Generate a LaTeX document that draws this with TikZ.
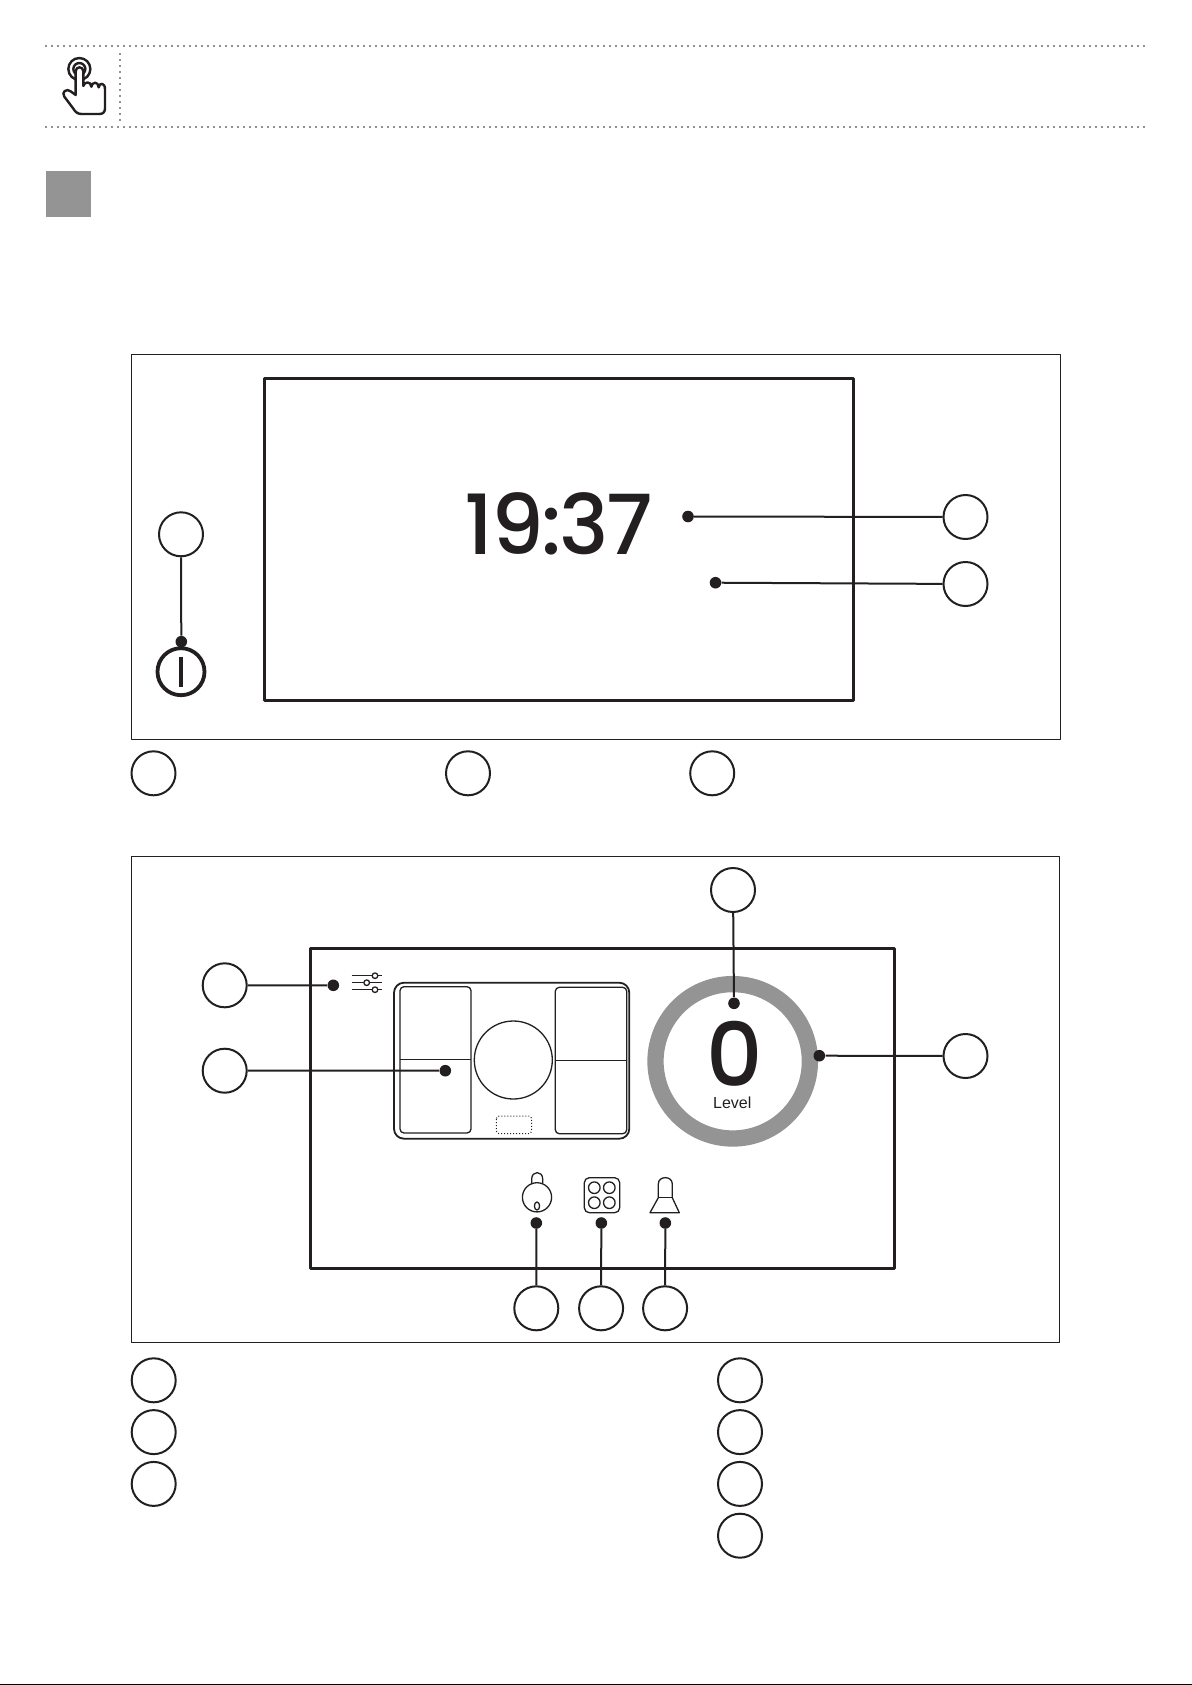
\documentclass[tikz,border=0pt]{standalone}
\usepackage{fontspec}
\setmainfont{Liberation Sans}
\newfontfamily\timefont[LetterSpace=-3]{Poppins Medium}
\newfontfamily\zerofont{Poppins Medium}
\usetikzlibrary{shapes}
\definecolor{ink}{HTML}{231F20}
\definecolor{ringgray}{HTML}{949494}
\tikzstyle{callout} = [circle, draw=ink, line width=1pt, fill=white, inner sep=0pt,
    minimum size=22pt]
\tikzstyle{pin} = [circle, fill=ink, inner sep=0pt, minimum size=5.8pt]
\tikzstyle{frame} = [draw=ink, line width=0.5pt]
\tikzstyle{screen} = [draw=ink, line width=1.5pt]
\tikzstyle{rule} = [ink, line width=0.8pt, line cap=round, dash pattern=on 0pt off 3pt]
\tikzstyle{icon} = [draw=ink, line width=0.65pt]
\tikzstyle{leader} = [draw=ink, line width=1pt]

\begin{document}
\begin{tikzpicture}[x=0.5pt,y=-0.5pt,line join=round]
  \useasboundingbox (0,0) rectangle (1192,1685);
  \fill[black] (0,1684) rectangle (1192,1685);

  \draw[rule] (46,46) -- (1146,46);
  \draw[rule] (46,127) -- (1146,127);
  \draw[rule] (120,54) -- (120,120);
  \fill[ringgray] (46,171) rectangle (91,217);

  \begin{scope}[shift={(30,30)},x=0.1667pt,y=-0.1667pt,draw=ink,line width=1.2pt]
    \draw (148,117) circle [radius=5.5pt];
    \draw (148,117) circle [radius=3pt];
    \draw[fill=white] (137,195) -- (137,124) .. controls (137,108) and (160,108) .. (160,124)
      -- (160,168) .. controls (162,155) and (183,152) .. (184,170)
      .. controls (186,155) and (205,153) .. (206,172)
      .. controls (208,157) and (225,157) .. (225,178) -- (225,235)
      .. controls (225,247) and (218,252) .. (208,252) -- (155,252)
      .. controls (143,252) and (136,246) .. (130,236) -- (103,200)
      .. controls (93,186) and (110,174) .. (122,184) -- cycle;
  \end{scope}

  % top panel
  \draw[frame] (131.5,354.5) rectangle (1060.5,739);
  \draw[screen] (264.5,378.5) rectangle (853.5,700.5);
  \node[ink, inner sep=0pt] (time) at (558.5,524) {\timefont\fontsize{41.5pt}{41.5pt}\selectfont 19:37};
  \node[circle, draw=ink, line width=1.9pt, inner sep=0pt, minimum size=23.5pt] (power) at (181,671.7) {};
  \draw[ink, line width=2pt] (181,656.7) -- (181,686.7);

  \node[callout] (c1)   at (181,534.3)   {};
  \node[pin]     (p1)   at (181.3,641.7) {};
  \node[callout] (c2)   at (965.5,517)   {};
  \node[pin]     (p2)   at (688,516.5)   {};
  \node[callout] (c3)   at (965.5,584)   {};
  \node[pin]     (p3)   at (715.5,582.7) {};
  \node[callout] (l1)   at (153.5,773.3) {};
  \node[callout] (l2)   at (468,773.3)   {};
  \node[callout] (l3)   at (712.2,773.3) {};

  \path[leader] (c1) -- (p1)
        (c2) -- (p2)
        (c3) -- (p3);

  % bottom panel
  \draw[frame] (131,856.5) rectangle (1059.5,1342.5);
  \draw[screen] (310,948.5) rectangle (894.5,1268.5);

  \draw[icon, line width=0.9pt, rounded corners=5pt] (394,982.7) rectangle (629.3,1138.7);
  \draw[icon, rounded corners=2pt] (400,986.7) rectangle (471,1133);
  \draw[icon] (400,1059.7) -- (471,1059.7);
  \draw[icon, rounded corners=2pt] (555.3,987.3) rectangle (626.7,1133.7);
  \draw[icon] (555.3,1060.3) -- (626.7,1060.3);
  \draw[icon] (513.3,1060) circle [radius=19.5pt];
  \draw[icon, line width=0.5pt, densely dotted, rounded corners=1.5pt] (496.3,1116) rectangle (531.7,1133.7);

  \draw[ringgray, line width=8.15pt] (732.7,1061.3) circle [radius=38.6pt];
  \node[ink, inner sep=0pt] (zero) at (735,1054) {\fontsize{44pt}{44pt}\selectfont\zerofont 0};
  \node[ink, inner sep=0pt] (level) at (732.3,1102.7) {\fontsize{8pt}{8pt}\selectfont Level};

  % sliders
  \draw[icon] (351.7,975.7) -- (381.7,975.7);
  \draw[icon] (351.7,982.7) -- (381.7,982.7);
  \draw[icon] (351.7,989.7) -- (381.7,989.7);
  \draw[icon, fill=white] (375,975.7) circle [radius=1.4pt];
  \draw[icon, fill=white] (366.7,982.7) circle [radius=1.4pt];
  \draw[icon, fill=white] (375,989.7) circle [radius=1.4pt];

  % lock
  \draw[icon] (537,1197.3) circle [radius=7.3pt];
  \draw[icon] (531.7,1184) -- (531.7,1179) .. controls (531.7,1170.5) and (542.7,1170.5) .. (542.7,1179) -- (542.7,1183);
  \draw[icon] (537,1206) ellipse [x radius=1.3pt, y radius=2pt];

  % hob
  \draw[icon, rounded corners=2.5pt] (584.3,1177.7) rectangle (619.7,1212.7);
  \draw[icon] (594.3,1187.7) circle [radius=2.9pt];
  \draw[icon] (609.3,1187.7) circle [radius=2.9pt];
  \draw[icon] (594.3,1202.7) circle [radius=2.9pt];
  \draw[icon] (609.3,1202.7) circle [radius=2.9pt];

  % hood
  \draw[icon] (658.3,1197.7) -- (658.3,1184) .. controls (658.3,1175.5) and (672.3,1175.5) .. (672.3,1184)
    -- (672.3,1197.7) -- (679.3,1212.7) -- (650,1212.7) -- cycle;
  \draw[icon] (658.3,1197.7) -- (672.3,1197.7);

  \node[callout] (c4)   at (733,890)      {};
  \node[pin]     (p4)   at (734,1003.3)   {};
  \node[callout] (c5)   at (965.5,1056)   {};
  \node[pin]     (p5)   at (819.3,1055.7) {};
  \node[callout] (c6)   at (224.7,985.3)  {};
  \node[pin]     (p6)   at (333.3,985.3)  {};
  \node[callout] (c7)   at (224.7,1070.7) {};
  \node[pin]     (p7)   at (445.3,1070.7) {};

  \node[callout] (c8)   at (536.3,1308.3) {};
  \node[callout] (c9)   [right of=c8, node distance=32.4pt] {};
  \node[callout] (c10)  [right of=c9, node distance=32pt] {};
  \node[pin]     (p8)   at (536.3,1223)   {};
  \node[pin]     (p9)   at (601.3,1223)   {};
  \node[pin]     (p10)  at (665.3,1223)   {};

  \node[callout] (l4)   at (153.7,1380.3) {};
  \node[callout] (l5)   [below of=l4, node distance=25.9pt] {};
  \node[callout] (l6)   [below of=l5, node distance=25.9pt] {};
  \node[callout] (l7)   at (740,1380.3)   {};
  \node[callout] (l8)   [below of=l7, node distance=25.9pt] {};
  \node[callout] (l9)   [below of=l8, node distance=25.9pt] {};
  \node[callout] (l10)  [below of=l9, node distance=25.9pt] {};

  \path[leader] (c4) -- (p4)
        (c5) -- (p5)
        (c6) -- (p6)
        (c7) -- (p7)
        (c8) -- (p8)
        (c9) -- (p9)
        (c10) -- (p10);
\end{tikzpicture}
\end{document}
